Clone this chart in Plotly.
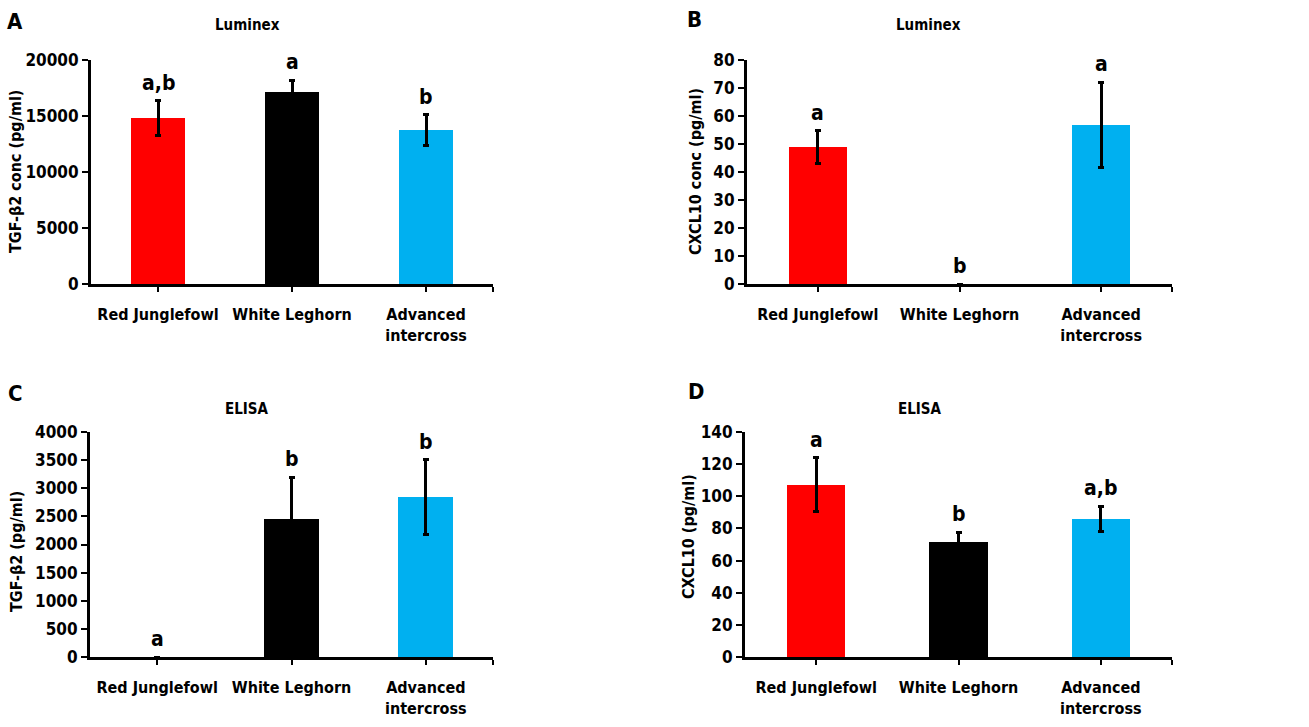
import plotly.graph_objects as go

categories = ["Red Junglefowl", "White Leghorn", "Advanced<br>intercross"]
colors = ["#FF0000", "#000000", "#00B0F0"]

# Panel A: Luminex TGF-β2
a_vals = [14800, 17100, 13750]
a_err = [1550, 1100, 1350]
a_lett = ["a,b", "a", "b"]
# Panel B: Luminex CXCL10
b_vals = [49.0, 0, 56.8]
b_err = [5.8, None, 15.2]
b_lett = ["a", "b", "a"]
# Panel C: ELISA TGF-β2
c_vals = [0, 2460, 2840]
c_err = [None, 740, 670]
c_lett = ["a", "b", "b"]
# Panel D: ELISA CXCL10
d_vals = [107.2, 71.3, 86.1]
d_err = [16.8, 6.2, 7.7]
d_lett = ["a", "b", "a,b"]

panels = [
    dict(vals=a_vals, err=a_err, lett=a_lett, ymax=20000, dtick=5000,
         ytitle="TGF-β2 conc (pg/ml)", title="Luminex", label="A"),
    dict(vals=b_vals, err=b_err, lett=b_lett, ymax=80, dtick=10,
         ytitle="CXCL10 conc (pg/ml)", title="Luminex", label="B"),
    dict(vals=c_vals, err=c_err, lett=c_lett, ymax=4000, dtick=500,
         ytitle="TGF-β2 (pg/ml)", title="ELISA", label="C"),
    dict(vals=d_vals, err=d_err, lett=d_lett, ymax=140, dtick=20,
         ytitle="CXCL10 (pg/ml)", title="ELISA", label="D"),
]

W, H = 1309, 727
# pixel boxes: (left, right, top, bottom)
boxes = [(91, 493, 60, 284), (747, 1172, 60, 284),
         (90, 493, 432, 657), (745, 1172, 432, 657)]
# annotation positions (px)
title_pos = [(247, 25), (928, 25), (247, 409), (920, 409)]
label_pos = [(15, 21), (694, 19), (15, 393), (696, 391)]
ytitle_pos = [(16, 172), (696, 172), (16, 552), (688, 537)]

FONT = "DejaVu Sans Condensed, Liberation Sans Narrow, DejaVu Sans, sans-serif"

fig = go.Figure()
xs = [0, 1, 2]
annotations = []
for i, p in enumerate(panels):
    sfx = "" if i == 0 else str(i + 1)
    l, r, t, b = boxes[i]
    err_arr = [e if e is not None else float("nan") for e in p["err"]]
    fig.add_trace(go.Bar(
        x=xs, y=p["vals"], width=0.41,
        marker=dict(color=colors, line=dict(width=0)),
        error_y=dict(type="data", array=err_arr, visible=True,
                     color="black", thickness=3, width=3),
        xaxis="x" + sfx, yaxis="y" + sfx, showlegend=False, hoverinfo="skip",
    ))
    fig.layout["xaxis" + sfx] = dict(
        domain=[l / W, r / W], range=[-0.5, 2.5], anchor="y" + sfx,
        tickvals=[0, 1, 2, 2.5], ticktext=categories + [""],
        ticks="outside", ticklen=5, tickwidth=2, tickcolor="black",
        ticklabelstandoff=9,
        showline=True, linewidth=3, linecolor="black", showgrid=False,
        zeroline=False, fixedrange=True, automargin=False,
        tickfont=dict(family=FONT, size=16, color="black", weight="bold"),
    )
    fig.layout["yaxis" + sfx] = dict(
        domain=[1 - b / H, 1 - t / H], range=[0, p["ymax"]], anchor="x" + sfx,
        dtick=p["dtick"], tick0=0, tickformat="d",
        ticks="outside", ticklen=6, tickwidth=2, tickcolor="black",
        showline=True, linewidth=3, linecolor="black", showgrid=False,
        zeroline=False, fixedrange=True, automargin=False,
        tickfont=dict(family=FONT, size=17, color="black", weight="bold"),
    )
    # significance letters
    for j in range(3):
        top = p["vals"][j] + (p["err"][j] or 0)
        annotations.append(dict(
            x=xs[j], y=top, xref="x" + sfx, yref="y" + sfx,
            text="<b>%s</b>" % p["lett"][j], showarrow=False,
            xanchor="center", yanchor="bottom", yshift=4,
            font=dict(family=FONT, size=21, color="black"),
        ))
    tx, ty = title_pos[i]
    annotations.append(dict(x=tx / W, y=1 - ty / H, xref="paper", yref="paper",
                            xanchor="center", yanchor="middle",
                            text="<b>%s</b>" % p["title"], showarrow=False,
                            font=dict(family=FONT, size=15, color="black")))
    lx, ly = label_pos[i]
    annotations.append(dict(x=lx / W, y=1 - ly / H, xref="paper", yref="paper",
                            xanchor="center", yanchor="middle",
                            text="<b>%s</b>" % p["label"], showarrow=False,
                            font=dict(family=FONT, size=22, color="black")))
    yx, yy = ytitle_pos[i]
    annotations.append(dict(x=yx / W, y=1 - yy / H, xref="paper", yref="paper",
                            xanchor="center", yanchor="middle",
                            text="<b>%s</b>" % p["ytitle"], showarrow=False,
                            textangle=-90,
                            font=dict(family=FONT, size=16, color="black")))

fig.update_layout(
    width=W, height=H, margin=dict(l=0, r=0, t=0, b=0, pad=0, autoexpand=False),
    paper_bgcolor="white", plot_bgcolor="white",
    annotations=annotations, bargap=0,
    font=dict(family=FONT, color="black"),
)
fig.write_html("out.html", config={"displayModeBar": False, "staticPlot": True},
               post_script="document.body.style.margin='0';document.body.style.overflow='hidden';")
